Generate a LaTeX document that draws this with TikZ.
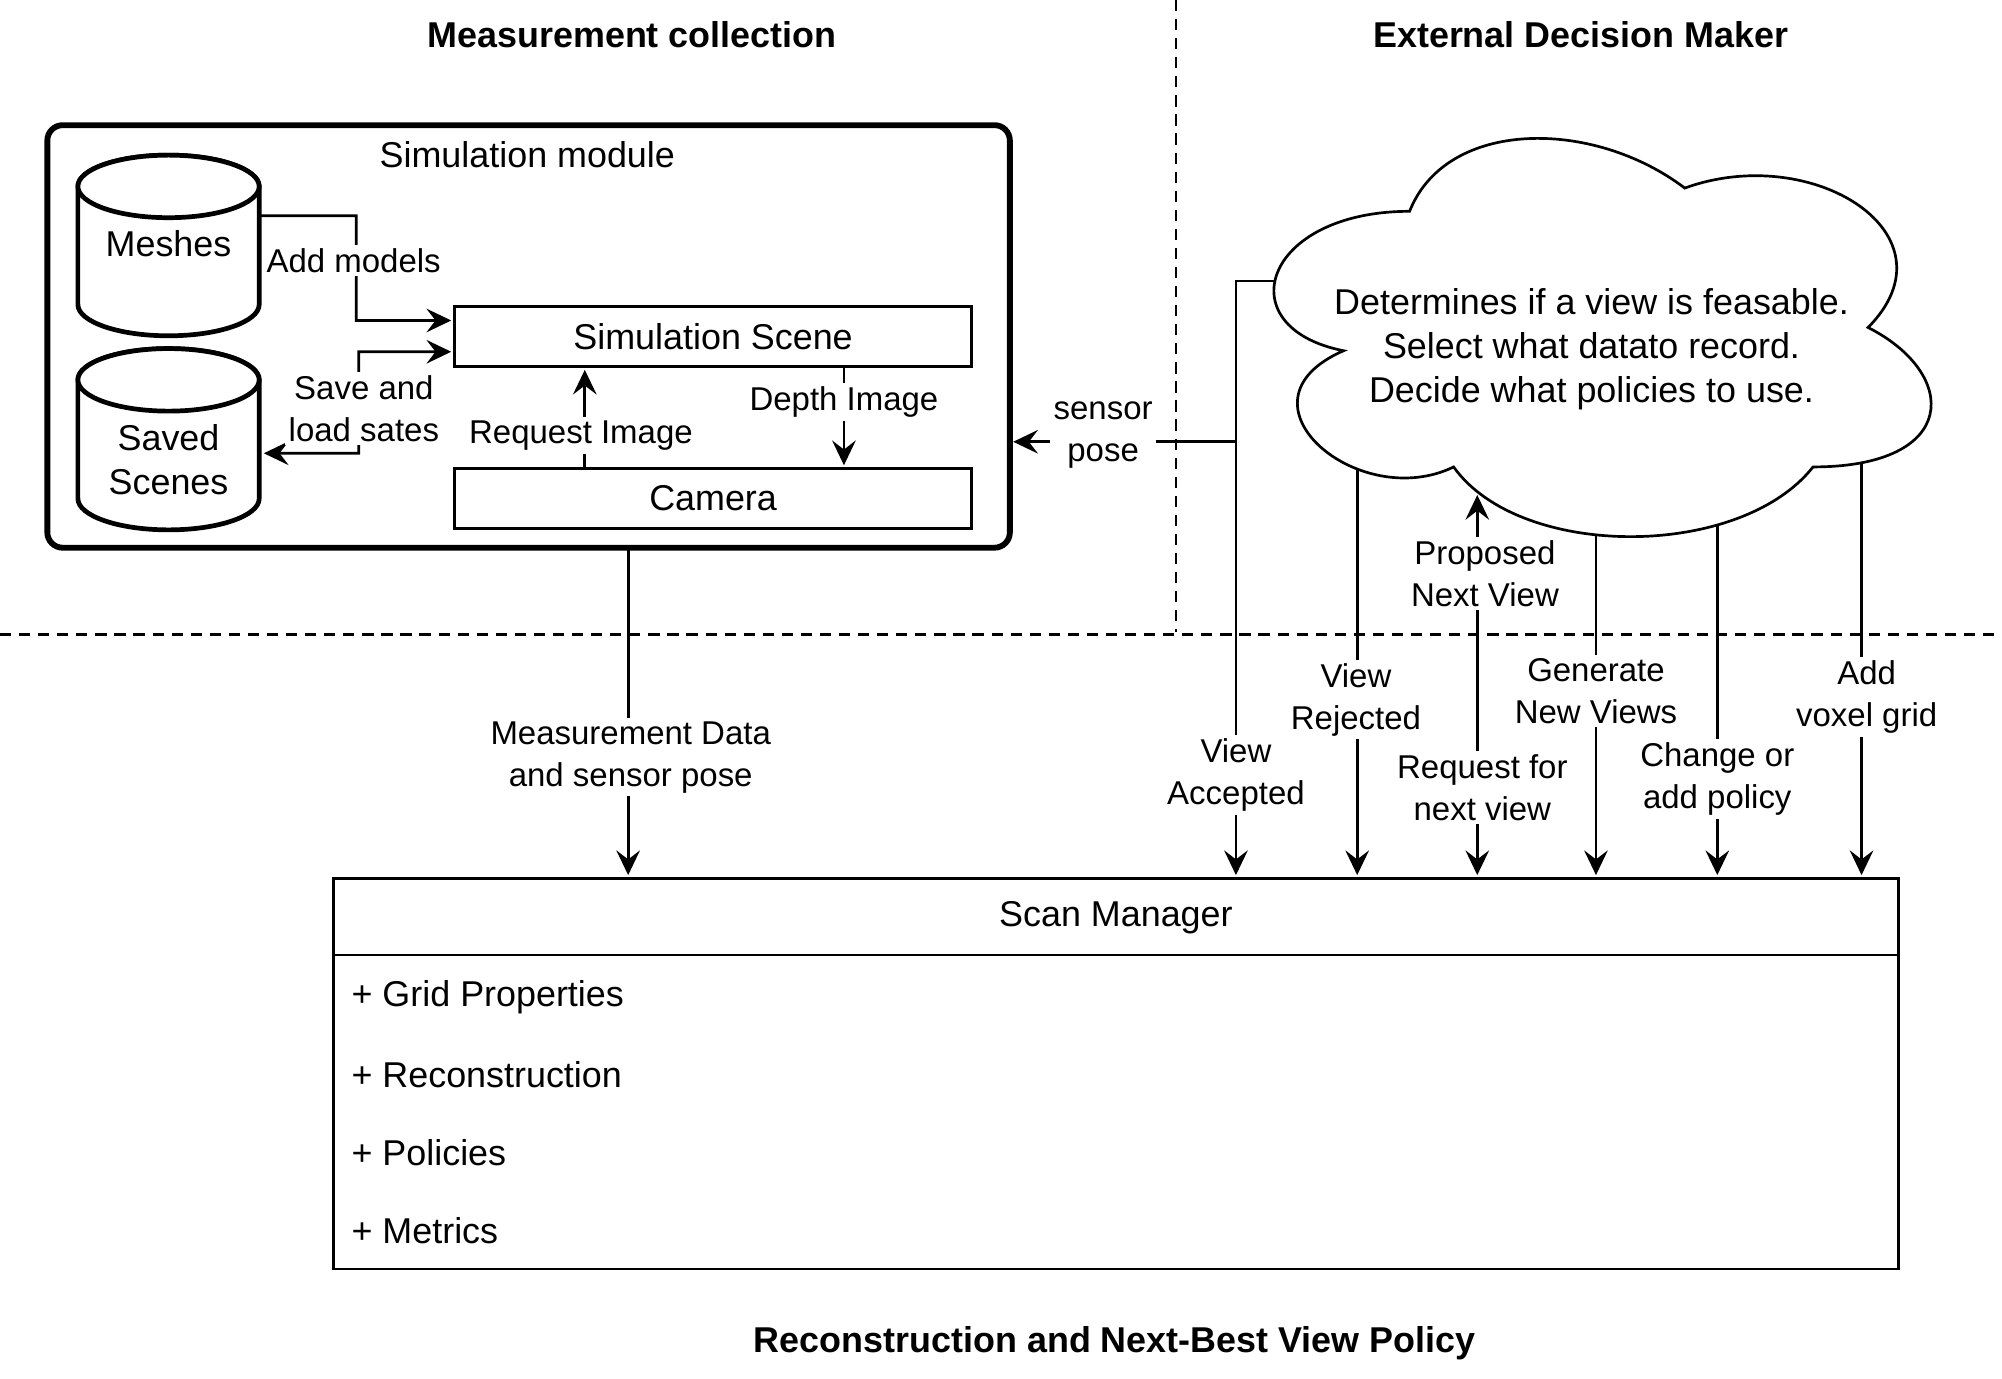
\documentclass[tikz,border=0pt]{standalone}
\usepackage{fontspec}
\setmainfont{Liberation Sans}
\usetikzlibrary{arrows.meta,intersections,calc}
\begin{document}
\begin{tikzpicture}[x=0.02cm,y=-0.02cm,
  every node/.style={font=\fontsize{16pt}{19.6pt}\selectfont},
  ln/.style={line width=1.2pt},
  tip/.tip={Stealth[length=11pt,width=10.5pt,inset=4pt]},
  arr/.style={ln,-tip,shorten >=1.5pt},
  darr/.style={ln,tip-tip,shorten >=1.5pt,shorten <=1.5pt},
  lbl/.style={fill=white,align=center,inner sep=1.5pt,font=\fontsize{14.7pt}{18.7pt}\selectfont},
  dashline/.style={line width=1.1pt,dash pattern=on 5pt off 3.5pt},
  title/.style={font=\fontsize{16pt}{19pt}\selectfont\bfseries},
  box/.style={draw,line width=1.2pt,inner sep=0pt,outer sep=0pt,fill=white},
  cyl/.style={line width=2.1pt,fill=white},
]
\useasboundingbox (0,0) rectangle (1568,1079.3);

% separators
\draw[dashline] (921,0) -- (921,495);
\draw[dashline] (0,497) -- (1568,497);

% titles
\node[title] (t1) at (495,27) {Measurement collection};
\node[title] (t2) at (1238,27) {External Decision Maker};
\node[title] (t3) at (873,1052) {Reconstruction and Next-Best View Policy};

% simulation module
\node[box,line width=2.6pt,rounded corners=0.24cm,minimum width=15.08cm,minimum height=6.62cm] (simmod) at (414,263.5) {};
\node (simlbl) at (413,121) {Simulation module};

% cylinders
\filldraw[cyl] (61,146) -- (61,238.5) arc[start angle=180,end angle=0,x radius=71,y radius=24.5] -- (203,146) arc[start angle=360,end angle=180,x radius=71,y radius=24.5] -- cycle;
\draw[cyl] (132,146) ellipse[x radius=71,y radius=24.5];
\node (meshes) at (132,191) {Meshes};
\filldraw[cyl] (61,297.5) -- (61,390.5) arc[start angle=180,end angle=0,x radius=71,y radius=24.5] -- (203,297.5) arc[start angle=360,end angle=180,x radius=71,y radius=24.5] -- cycle;
\draw[cyl] (132,297.5) ellipse[x radius=71,y radius=24.5];
\node[align=center] (saved) at (132,360) {Saved\\Scenes};
\coordinate (meshR) at (204,169);
\coordinate (savedR) at (204,355);

% scene and camera
\node[box,minimum width=8.1cm,minimum height=0.94cm] (simscene) at (558.5,263.5) {Simulation Scene};
\node[box,minimum width=8.1cm,minimum height=0.94cm] (camera) at (558.5,390.5) {Camera};

% scan manager
\node[box,minimum width=24.52cm,minimum height=6.12cm] (scanmgr) at (874,841) {};
\draw[ln] ([yshift=-1.2cm]scanmgr.north west) -- ([yshift=-1.2cm]scanmgr.north east);
\node (smtitle) at (874,719) {Scan Manager};
\node[anchor=west,inner sep=0pt] (i1) at (275,781) {+ Grid Properties};
\node[anchor=west,inner sep=0pt] (i2) at (275,842) {+ Reconstruction};
\node[anchor=west,inner sep=0pt] (i3) at (275,903) {+ Policies};
\node[anchor=west,inner sep=0pt] (i4) at (275,964) {+ Metrics};

% cloud
\filldraw[ln,fill=white,name path=cloudp] (1104,165.5)
  .. controls (989.1,165.5) and (960.4,256.5) .. (1052.3,274.7)
  .. controls (960.4,314.7) and (1063.8,402.1) .. (1138.5,365.7)
  .. controls (1190.2,438.5) and (1362.6,438.5) .. (1420,365.7)
  .. controls (1534.9,365.7) and (1534.9,292.9) .. (1463.1,256.5)
  .. controls (1534.9,183.7) and (1420,110.9) .. (1319.5,147.3)
  .. controls (1247.7,92.7) and (1132.8,92.7) .. (1104,165.5) -- cycle;
\node[align=center] (cloudtxt) at (1246.5,273.5) {Determines if a view is feasable.\\Select what datato record.\\Decide what policies to use.};

\path[name path=hL] (950,220) -- (1060,220);
\path[name path=vR] (1063,300) -- (1063,460);
\path[name path=vP] (1157,300) -- (1157,460);
\path[name path=vG] (1250,300) -- (1250,460);
\path[name path=vC] (1345,300) -- (1345,460);
\path[name path=vV] (1458,300) -- (1458,460);
\path[name intersections={of=cloudp and hL,by=cL}];
\path[name intersections={of=cloudp and vR,by=cR}];
\path[name intersections={of=cloudp and vP,by=cP}];
\path[name intersections={of=cloudp and vG,by=cG}];
\path[name intersections={of=cloudp and vC,by=cC}];
\path[name intersections={of=cloudp and vV,by=cV}];

% connectors inside module
\draw[arr] (meshR) -- (279,169) -- (279,251) -- ([yshift=0.25cm]simscene.west);
\draw[darr] (savedR) -- (281,355) -- (281,275.5) -- ([yshift=-0.24cm]simscene.west);
\draw[arr] ([xshift=-2.01cm]camera.north) -- ([xshift=-2.01cm]simscene.south);
\draw[arr] ([xshift=2.05cm]simscene.south) -- ([xshift=2.05cm]camera.north);

% measurement data
\draw[arr] ([xshift=1.56cm]simmod.south) -- ([xshift=1.56cm]simmod.south |- scanmgr.north);

% decision maker connectors
\coordinate (sp) at (968,346);
\draw[arr] (cL) -| (sp) -- (sp -| simmod.east);
\draw[arr] (cL) -| (sp |- scanmgr.north);
\draw[arr] (cR) -- (cR |- scanmgr.north);
\draw[darr] (cP) -- (cP |- scanmgr.north);
\draw[arr] (cG) -- (cG |- scanmgr.north);
\draw[arr] (cC) -- (cC |- scanmgr.north);
\draw[arr] (cV) -- (cV |- scanmgr.north);

% labels
\node[lbl] (lAdd) at (277,204) {Add models};
\node[lbl] (lSave) at (285,320) {Save and\\load sates};
\node[lbl] (lReq) at (455,341) {Request Image};
\node[lbl] (lDepth) at (661,315) {Depth Image};
\node[lbl] (lMeas) at (494,593) {Measurement Data\\and sensor pose};
\node[lbl] (lSens) at (864,341) {sensor\\pose};
\node[lbl] (lAcc) at (968,607) {View\\Accepted};
\node[lbl] (lRej) at (1062,548) {View\\Rejected};
\node[lbl] (lProp) at (1163,449) {Proposed\\Next View};
\node[lbl] (lReqN) at (1161,617) {Request for\\next view};
\node[lbl] (lGen) at (1250,541) {Generate\\New Views};
\node[lbl] (lChg) at (1345,610) {Change or\\add policy};
\node[lbl] (lVox) at (1462,546) {Add\\voxel grid};
\end{tikzpicture}
\end{document}
